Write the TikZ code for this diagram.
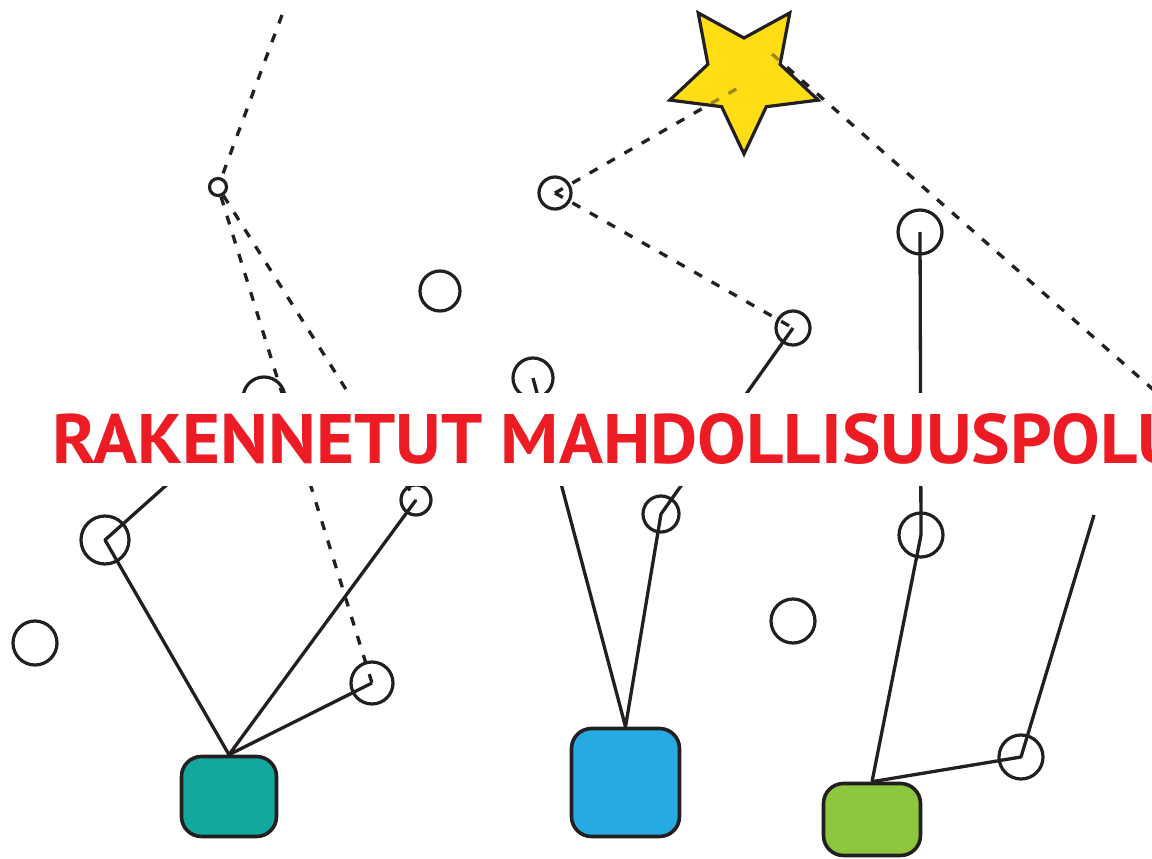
\documentclass[tikz,border=0pt]{standalone}
\usepackage{graphicx}
\usepackage{fontspec}
\newfontfamily\titlefont{PT Sans}
\definecolor{ink}{HTML}{231F20}
\definecolor{tred}{HTML}{ED1C24}
\definecolor{boxteal}{HTML}{12A89D}
\definecolor{boxblue}{HTML}{27AAE1}
\definecolor{boxgreen}{HTML}{8DC63F}
\definecolor{staryellow}{HTML}{FFDD15}
\tikzset{
  ring/.style={circle, draw=ink, line width=3.2pt, inner sep=0pt},
  tile/.style={rectangle, rounded corners=20pt, draw=ink, line width=3.6pt, inner sep=0pt},
  link/.style={draw=ink, line width=3.3pt, line join=round},
  dlink/.style={draw=ink, line width=3.3pt, dash pattern=on 9pt off 11pt},
}
\begin{document}
\begin{tikzpicture}[x=1pt, y=-1pt]
\useasboundingbox (0,0) rectangle (1152,859);
\clip (0,0) rectangle (1152,859);

% circles
\node[ring, minimum size=17pt] (s0) at (218,187) {};
\node[ring, minimum size=42pt] (c1) at (264,398) {};
\node[ring, minimum size=40pt] (c2) at (440,291) {};
\node[ring, minimum size=40pt] (c3) at (533,378) {};
\node[ring, minimum size=48pt] (A) at (105,540) {};
\node[ring, minimum size=44pt] (B) at (35,643) {};
\node[ring, minimum size=30pt] (C) at (416,500) {};
\node[ring, minimum size=42pt] (D) at (372,683) {};
\node[ring, minimum size=36pt] (E) at (661,514) {};
\node[ring, minimum size=34pt] (F) at (793,328) {};
\node[ring, minimum size=44pt] (G) at (793,621) {};
\node[ring, minimum size=44pt] (H) at (921,535) {};
\node[ring, minimum size=44pt] (T) at (920,232) {};
\node[ring, minimum size=44pt] (I) at (1021,757) {};
\node[ring, minimum size=32pt] (s) at (555,193) {};

% boxes
\node[tile, fill=boxteal, minimum width=95pt, minimum height=80pt] (teal) at (229,796.5) {};
\node[tile, fill=boxblue, minimum width=108pt, minimum height=108pt] (blue) at (625.5,782.5) {};
\node[tile, fill=boxgreen, minimum width=97pt, minimum height=72pt] (green) at (872,819.5) {};

% free ends and star anchors
\coordinate (topend) at (282,15);
\coordinate (rightend) at (1165,400);
\coordinate (lowend) at (1094,515);
\coordinate (star) at (744,76);
\coordinate (starL) at (745,84);
\coordinate (starR) at (772,54);

% solid connectors
\draw[link] (teal.north) -- (A.center) -- (c1.center);
\draw[link] (teal.north) -- (C.center);
\draw[link] (teal.north) -- (D.center);
\draw[link] (blue.north) -- (c3.center);
\draw[link] (blue.north) -- (E.center) -- (F.center);
\draw[link] (green.north) -- (H.center) -- (T.center);
\draw[link] (green.north) -- (I.center) -- (lowend);

% dashed connectors
\draw[dlink] (topend) -- (s0);
\draw[dlink] (s0) -- (C.center);
\draw[dlink] (s0) -- (D.center);
\draw[dlink] (s.center) -- (starL);
\draw[dlink] (s.center) -- (F.center);
\draw[dlink] (starR) -- (rightend);

% star
\def\starpath{(744,154) -- (721.7,106.7) -- (669.8,100.1) -- (707.9,64.3) -- (698.2,12.9) -- (744,38) -- (789.8,12.9) -- (780.1,64.3) -- (818.2,100.1) -- (766.3,106.7) -- cycle}
\fill[staryellow] \starpath;
\begin{scope}
  \clip \starpath;
  \draw[dlink, opacity=0.45] (s.center) -- (starL);
  \draw[dlink, opacity=0.45] (starR) -- (rightend);
\end{scope}
\draw[ink, line width=3.2pt, line join=miter] \starpath;

% title band
\fill[white] (0,393) rectangle (1152,486);
\node[anchor=base west, inner sep=0pt, text=tred, font=\titlefont\bfseries\fontsize{70}{70}\selectfont] (title) at (52,463) {\scalebox{1.04}[1]{RAKENNETUT MAHDOLLISUUSPOLU}};
\end{tikzpicture}
\end{document}
